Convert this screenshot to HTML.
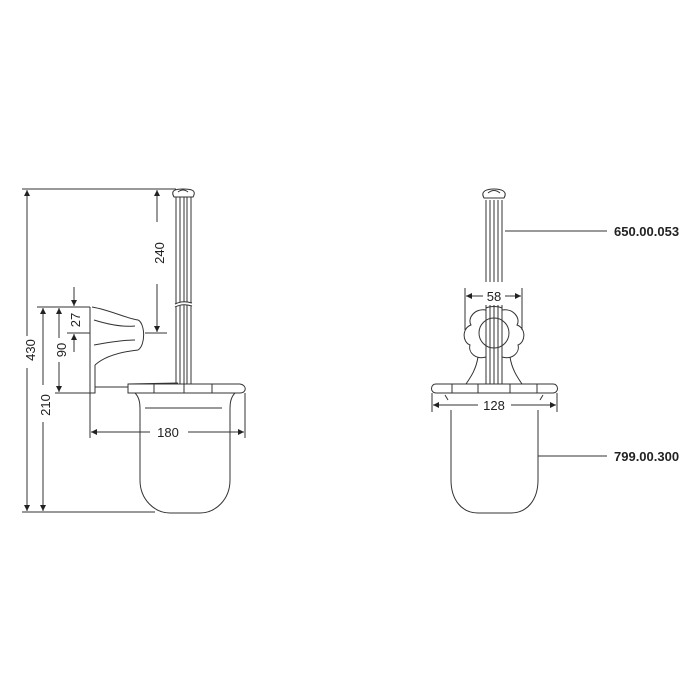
<!DOCTYPE html>
<html><head><style>body{margin:0;background:#fff}svg{display:block}</style></head><body>
<svg width="700" height="700" viewBox="0 0 700 700" xmlns="http://www.w3.org/2000/svg" font-family="Liberation Sans, sans-serif">
<defs>
<marker id="a" viewBox="0 0 10 10" refX="10" refY="5" markerWidth="8" markerHeight="6" orient="auto-start-reverse" markerUnits="userSpaceOnUse"><path d="M0,0L10,5L0,10z" fill="#222"/></marker>
</defs>
<g stroke="#333" stroke-width="1" fill="none">
<!-- left view dims -->
<line x1="22" y1="189" x2="176" y2="189"/>
<line x1="22" y1="512" x2="155" y2="512"/>
<line x1="27" y1="190" x2="27" y2="336" marker-start="url(#a)"/>
<line x1="27" y1="368" x2="27" y2="511" marker-end="url(#a)"/>
<line x1="37" y1="307" x2="90" y2="307"/>
<line x1="43" y1="308" x2="43" y2="385" marker-start="url(#a)"/>
<line x1="43" y1="422" x2="43" y2="511" marker-end="url(#a)"/>
<line x1="55" y1="393" x2="90" y2="393"/>
<line x1="59" y1="308" x2="59" y2="338" marker-start="url(#a)"/>
<line x1="59" y1="362" x2="59" y2="392" marker-end="url(#a)"/>
<line x1="67" y1="333" x2="90" y2="333"/>
<line x1="74" y1="287" x2="74" y2="306" marker-end="url(#a)"/>
<line x1="74" y1="352" x2="74" y2="334" marker-end="url(#a)"/>
<line x1="157" y1="190" x2="157" y2="222" marker-start="url(#a)"/>
<line x1="157" y1="284" x2="157" y2="332" marker-end="url(#a)"/>
<line x1="145" y1="333" x2="167" y2="333"/>
<line x1="90" y1="393" x2="90" y2="438"/>
<line x1="245" y1="393" x2="245" y2="438"/>
<line x1="91" y1="432" x2="150" y2="432" marker-start="url(#a)"/>
<line x1="188" y1="432" x2="244" y2="432" marker-end="url(#a)"/>
<!-- bracket -->
<path d="M90,307 L90,393 L95,393 L95,365"/>
<path d="M92,307 C110,310 125,318 138,320 C145,323 146,345 138,350 C120,352 105,356 95,365"/>
<path d="M94,320 C110,325 125,327 135,326 M94,345 C110,342 125,340 135,340"/>
<path d="M95,387 L128,387"/>
<!-- rod -->
<path d="M176,197 L176,384 M191,197 L191,384 M180,197 L180,384 M184,197 L184,384 M187,197 L187,384"/>
<path d="M175,306 Q183,302 192,305" stroke="#fff" stroke-width="3"/>
<path d="M175,304 Q183,300 192,303 M175,307 Q183,303 192,306"/>
<path d="M174,197 C170,190 176,189 183,189 C191,189 197,190 193,197 Z" fill="#fff"/>
<path d="M178,192 Q183,188 188,192"/>
<!-- tray -->
<path d="M128,393 L128,384 L240,384 C247,385 247,393 240,393 Z" fill="#fff"/>
<path d="M154,384v9 M184,384v9 M212,384v9 M128,384 L178,383"/>
<!-- cup -->
<path d="M135,393 C140,398 140,405 140,410 L140,480 C140,500 155,513 170,513 L200,513 C215,513 230,500 230,480 L230,410 C230,405 230,398 235,393"/>
<line x1="145" y1="408" x2="222" y2="408"/>

<!-- right view -->
<path d="M486,200 L486,282 M502,200 L502,282 M490,200 L490,282 M494,200 L494,282 M498,200 L498,282"/>
<path d="M486,305 L486,384 M502,305 L502,384 M490,305 L490,384 M494,305 L494,384 M498,305 L498,384"/>
<path d="M484,198 C480,191 487,189 494,189 C501,189 508,191 504,198 Z" fill="#fff"/>
<path d="M488,193 Q494,188 500,193"/>
<line x1="505" y1="231" x2="607" y2="231"/>
<line x1="465" y1="288" x2="465" y2="330"/>
<line x1="522" y1="288" x2="522" y2="330"/>
<line x1="466" y1="296" x2="483" y2="296" marker-start="url(#a)"/>
<line x1="505" y1="296" x2="521" y2="296" marker-end="url(#a)"/>
<circle cx="494" cy="333" r="15"/>
<path d="M486,308 C490,306 498,306 502,308 M486,310 C475,308 467,318 471,325 C462,328 462,342 470,345 C468,352 475,360 486,357 M502,310 C513,308 521,318 517,325 C526,328 526,342 518,345 C520,352 513,360 502,357"/>
<path d="M478,357 C476,370 470,378 466,384 M510,357 C512,370 518,378 522,384"/>
<path d="M436,393 C430,393 430,384 436,384 L553,384 C559,384 559,393 553,393 Z" fill="#fff"/>
<path d="M452,384v9 M478,384v9 M510,384v9 M537,384v9"/>
<path d="M445,395 L448,400 M543,395 L540,400"/>
<line x1="432" y1="393" x2="432" y2="412"/>
<line x1="557" y1="393" x2="557" y2="412"/>
<line x1="433" y1="405" x2="478" y2="405" marker-start="url(#a)"/>
<line x1="511" y1="405" x2="556" y2="405" marker-end="url(#a)"/>
<path d="M451,410 L451,480 C451,500 462,513 478,513 L511,513 C527,513 538,500 538,480 L538,410"/>
<line x1="538" y1="456" x2="607" y2="456"/>
</g>
<g fill="#222" font-size="13">
<text transform="translate(35,350) rotate(-90)" text-anchor="middle">430</text>
<text transform="translate(50,405) rotate(-90)" text-anchor="middle">210</text>
<text transform="translate(66,350) rotate(-90)" text-anchor="middle">90</text>
<text transform="translate(80,320) rotate(-90)" text-anchor="middle">27</text>
<text transform="translate(164,253) rotate(-90)" text-anchor="middle">240</text>
<text x="168" y="437" text-anchor="middle">180</text>
<text x="494" y="301" text-anchor="middle">58</text>
<text x="494" y="410" text-anchor="middle">128</text>
<text x="614" y="236" font-weight="bold" font-size="13">650.00.053</text>
<text x="614" y="461" font-weight="bold" font-size="13">799.00.300</text>
</g>
</svg>
</body></html>
